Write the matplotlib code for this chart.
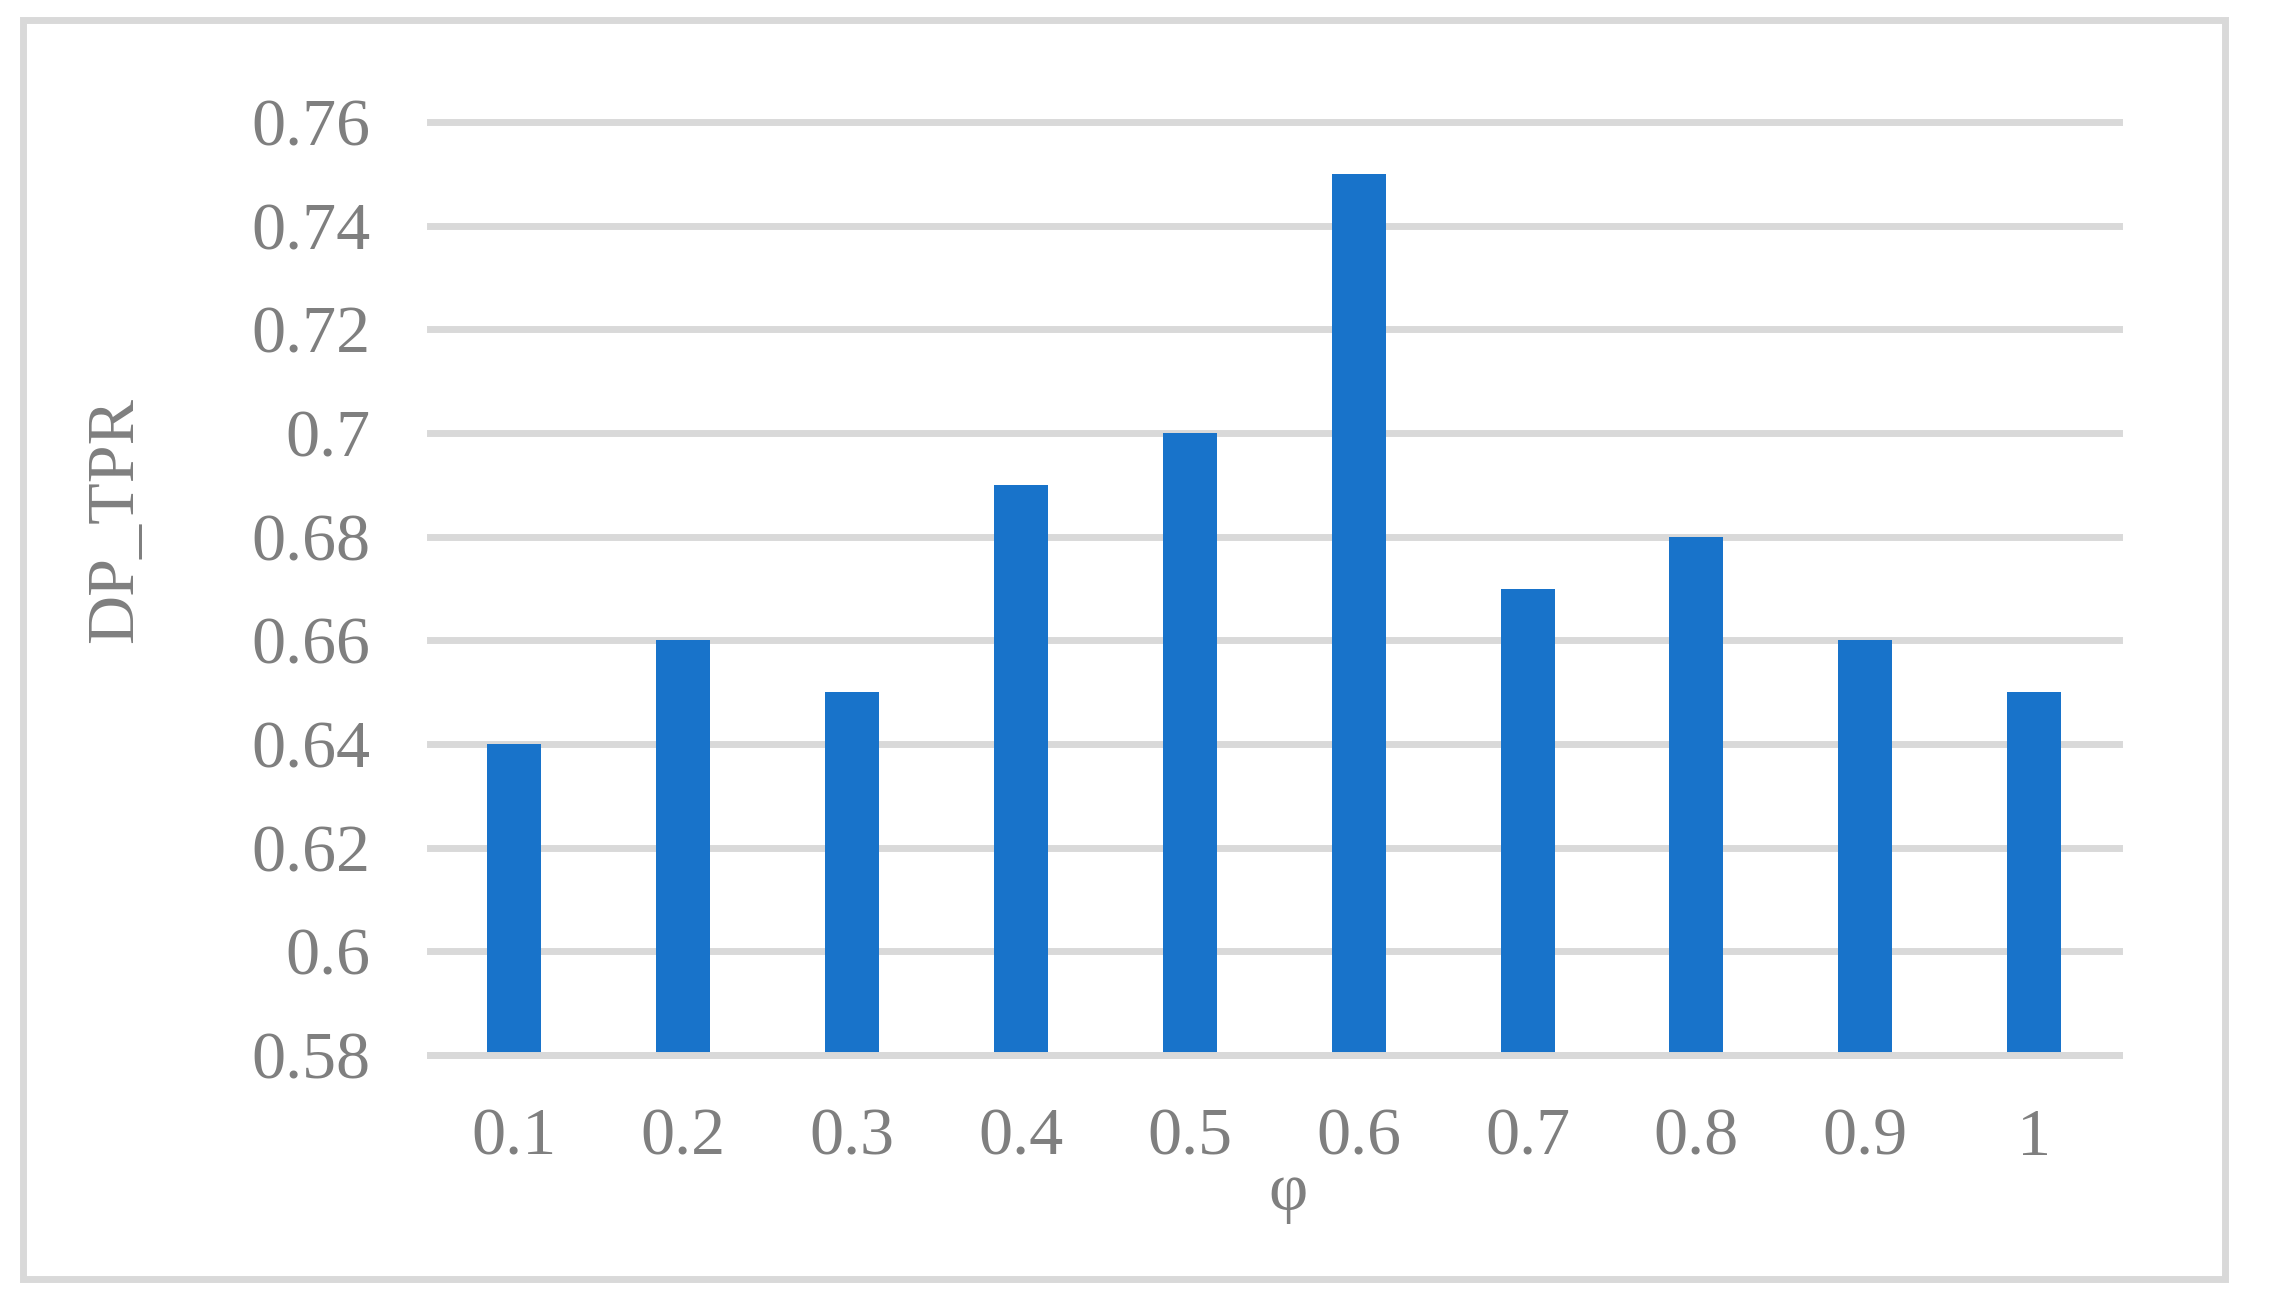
import matplotlib
matplotlib.use('Agg')
import matplotlib.pyplot as plt
from matplotlib.patches import Rectangle

plt.rcParams['font.family'] = ['Liberation Serif', 'DejaVu Serif']

phi = ['0.1', '0.2', '0.3', '0.4', '0.5', '0.6', '0.7', '0.8', '0.9', '1']
dp_tpr = [0.64, 0.66, 0.65, 0.69, 0.70, 0.75, 0.67, 0.68, 0.66, 0.65]
yticks = [0.58, 0.6, 0.62, 0.64, 0.66, 0.68, 0.7, 0.72, 0.74, 0.76]
ytick_labels = ['0.58', '0.6', '0.62', '0.64', '0.66', '0.68', '0.7', '0.72', '0.74', '0.76']

W, H = 2269, 1314
DPI = 200
gray = '#7F7F7F'
grid_c = '#D9D9D9'
fs = 24.5

fig = plt.figure(figsize=(W / DPI, H / DPI), dpi=DPI)
ax = fig.add_axes([430 / W, 1 - 1055 / H, (2118.5 - 430) / W, (1055 - 122) / H])

ax.bar(range(len(phi)), dp_tpr, width=0.32, bottom=0, color='#1873CA', zorder=2)
ax.set_xlim(-0.5, len(phi) - 0.5)
ax.set_ylim(0.58, 0.76)
ax.set_yticks(yticks)
ax.set_yticklabels(ytick_labels)
ax.set_xticks(range(len(phi)))
ax.set_xticklabels(phi)

ax.set_axisbelow(True)
ax.yaxis.grid(True, color=grid_c, linewidth=2.5)
for gl in ax.get_ygridlines():
    gl.set_clip_on(False)

for s in ['top', 'right', 'left']:
    ax.spines[s].set_visible(False)
ax.spines['bottom'].set_color(grid_c)
ax.spines['bottom'].set_linewidth(2.5)
ax.spines['bottom'].set_zorder(3)

ax.tick_params(axis='both', length=0, labelsize=fs, labelcolor=gray)
ax.tick_params(axis='x', pad=19)
ax.tick_params(axis='y', pad=21.5)

fig.text(1288 / W, 1 - 1193 / H, 'φ', fontsize=fs, color=gray, ha='center', va='center')
fig.text(116 / W, 1 - 520 / H, 'DP_TPR', fontsize=fs, color=gray, ha='center', va='center', rotation=90)

# outer border of the chart area
fig.patches.append(Rectangle((23 / W, 1 - 1279 / H), (2225 - 23) / W, (1279 - 20) / H,
                             transform=fig.transFigure, fill=False, edgecolor=grid_c, linewidth=2.5))

fig.savefig('out.png', dpi=DPI)
